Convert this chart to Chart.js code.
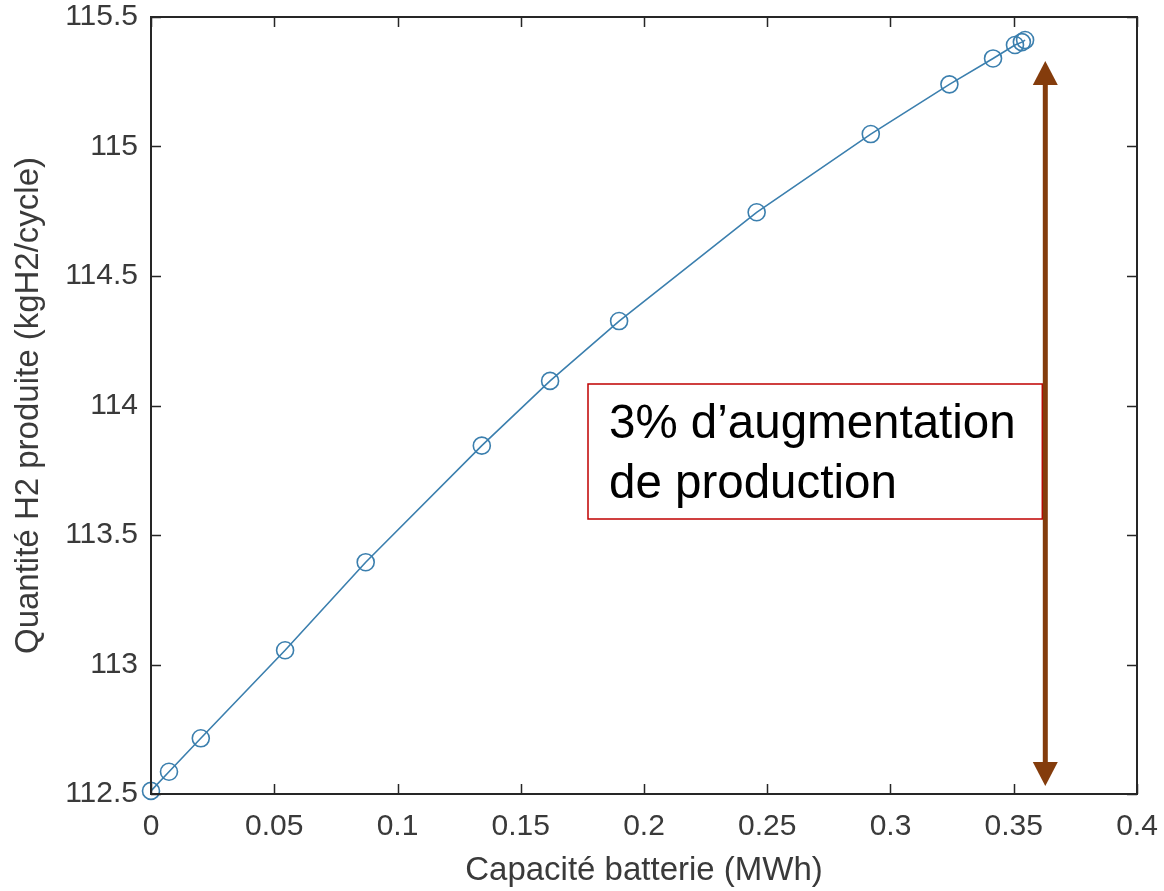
<!DOCTYPE html>
<html>
<head>
<meta charset="utf-8">
<script src="https://cdn.jsdelivr.net/npm/chart.js@4.4.1/dist/chart.umd.min.js"></script>
<style>
  html, body { margin: 0; padding: 0; background: #ffffff; }
  #wrap { position: relative; width: 1164px; height: 891px; }
</style>
</head>
<body>
<div id="wrap"><canvas id="c" width="1164" height="891"></canvas></div>
<script>
// Battery capacity (MWh) vs hydrogen produced per cycle (kg)
const capaciteMWh = [0, 0.0073, 0.0202, 0.0544, 0.0871, 0.1342, 0.1619, 0.1899, 0.2457, 0.2920, 0.3239, 0.3416, 0.3505, 0.3533, 0.3546];
const quantiteH2 = [112.512, 112.586, 112.715, 113.055, 113.395, 113.845, 114.095, 114.326, 114.746, 115.048, 115.240, 115.340, 115.392, 115.403, 115.411];

const xTicks = [0, 0.05, 0.1, 0.15, 0.2, 0.25, 0.3, 0.35, 0.4];
const yTicks = [112.5, 113, 113.5, 114, 114.5, 115, 115.5];

// Annotation: vertical double arrow spanning the gain, with its caption
const arrowX = 0.3628;
const arrowFrom = 112.531;
const arrowTo = 115.330;
const captionLines = ['3% d\u2019augmentation', 'de production'];

const AXIS_COLOR = '#262626';
const TEXT_COLOR = '#3a3a3a';
const LINE_COLOR = '#3b7fae';
const FONT = '"Liberation Sans", Arial, sans-serif';

const points = capaciteMWh.map((x, i) => ({ x: x, y: quantiteH2[i] }));

// Box, inward ticks on all four sides
const boxTicks = {
  id: 'boxTicks',
  afterDatasetsDraw(chart) {
    const { ctx, chartArea: a, scales } = chart;
    const L = 10;
    ctx.save();
    ctx.strokeStyle = AXIS_COLOR;
    ctx.lineWidth = 1.5;
    ctx.beginPath();
    xTicks.forEach(v => {
      const px = Math.round(scales.x.getPixelForValue(v)) + 0.5;
      ctx.moveTo(px, a.bottom); ctx.lineTo(px, a.bottom - L);
      ctx.moveTo(px, a.top); ctx.lineTo(px, a.top + L);
    });
    yTicks.forEach(v => {
      const py = Math.round(scales.y.getPixelForValue(v)) + 0.5;
      ctx.moveTo(a.left, py); ctx.lineTo(a.left + L, py);
      ctx.moveTo(a.right, py); ctx.lineTo(a.right - L, py);
    });
    ctx.stroke();
    ctx.lineWidth = 2;
    ctx.strokeRect(a.left, a.top, a.right - a.left, a.bottom - a.top);
    ctx.restore();
  }
};

// Caption box and brown double arrow
const gainNote = {
  id: 'gainNote',
  afterDraw(chart) {
    const { ctx, scales } = chart;
    const ax = scales.x.getPixelForValue(arrowX);
    const yTop = scales.y.getPixelForValue(arrowTo);
    const yBot = scales.y.getPixelForValue(arrowFrom);
    ctx.save();
    // caption box
    const bx = 588, by = 384, bw = ax - 3 - 588, bh = 135;
    ctx.fillStyle = '#ffffff';
    ctx.fillRect(bx, by, bw, bh);
    ctx.strokeStyle = '#c00000';
    ctx.lineWidth = 1.5;
    ctx.strokeRect(bx, by, bw, bh);
    ctx.fillStyle = '#000000';
    ctx.font = '47.5px ' + FONT;
    ctx.textBaseline = 'alphabetic';
    ctx.textAlign = 'left';
    ctx.fillText(captionLines[0], bx + 21, by + 54);
    ctx.fillText(captionLines[1], bx + 21, by + 114);
    // arrow
    const head = 24, hw = 12.5;
    ctx.strokeStyle = '#843c0c';
    ctx.fillStyle = '#843c0c';
    ctx.lineWidth = 5;
    ctx.beginPath();
    ctx.moveTo(ax, yTop + head - 2);
    ctx.lineTo(ax, yBot - head + 2);
    ctx.stroke();
    ctx.beginPath();
    ctx.moveTo(ax, yTop);
    ctx.lineTo(ax - hw, yTop + head);
    ctx.lineTo(ax + hw, yTop + head);
    ctx.closePath();
    ctx.fill();
    ctx.beginPath();
    ctx.moveTo(ax, yBot);
    ctx.lineTo(ax - hw, yBot - head);
    ctx.lineTo(ax + hw, yBot - head);
    ctx.closePath();
    ctx.fill();
    ctx.restore();
  }
};

const fmt = v => String(+Number(v).toFixed(3));

new Chart(document.getElementById('c'), {
  type: 'scatter',
  data: {
    datasets: [{
      data: points,
      showLine: true,
      borderColor: LINE_COLOR,
      borderWidth: 1.6,
      pointStyle: 'circle',
      pointRadius: 8.5,
      pointBorderWidth: 1.6,
      pointBorderColor: LINE_COLOR,
      pointBackgroundColor: 'rgba(0,0,0,0)',
      tension: 0,
      clip: false
    }]
  },
  options: {
    responsive: false,
    animation: false,
    events: [],
    layout: { padding: { top: 17, right: 27, left: 0, bottom: 0 } },
    plugins: { legend: { display: false }, tooltip: { enabled: false } },
    scales: {
      x: {
        type: 'linear',
        min: 0, max: 0.4,
        afterBuildTicks: s => { s.ticks = xTicks.map(v => ({ value: v })); },
        afterFit: s => { s.height = 97; s.paddingLeft = 0; s.paddingRight = 0; },
        grid: { display: false, drawTicks: false },
        border: { display: false },
        ticks: {
          color: TEXT_COLOR,
          font: { family: FONT, size: 30 },
          padding: 15,
          maxRotation: 0,
          callback: v => fmt(v)
        },
        title: {
          display: true,
          text: 'Capacit\u00e9 batterie (MWh)',
          color: TEXT_COLOR,
          font: { family: FONT, size: 33 },
          padding: { top: 2, bottom: 0 }
        }
      },
      y: {
        type: 'linear',
        min: 112.5, max: 115.5,
        afterBuildTicks: s => { s.ticks = yTicks.map(v => ({ value: v })); },
        afterFit: s => { s.width = 151; s.paddingTop = 0; s.paddingBottom = 0; },
        grid: { display: false, drawTicks: false },
        border: { display: false },
        ticks: {
          color: TEXT_COLOR,
          font: { family: FONT, size: 30 },
          padding: 13,
          callback: v => fmt(v)
        },
        title: {
          display: true,
          text: 'Quantit\u00e9 H2 produite (kgH2/cycle)',
          color: TEXT_COLOR,
          font: { family: FONT, size: 33 },
          padding: { top: 9, bottom: 0 }
        }
      }
    }
  },
  plugins: [boxTicks, gainNote]
});
</script>
</body>
</html>
